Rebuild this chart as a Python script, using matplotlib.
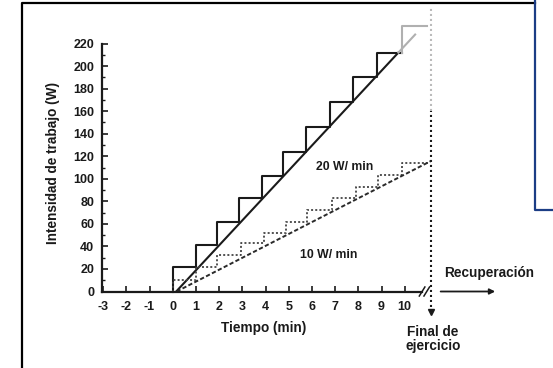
import numpy as np
import matplotlib.pyplot as plt
from matplotlib.lines import Line2D

plt.rcParams['font.family'] = ['Liberation Sans', 'DejaVu Sans']
plt.rcParams['font.weight'] = 'bold'

# axis ticks
x_ticks = list(range(-3, 11))
x_labels = ['-3', '-2', '-1', '0', '1', '2', '3', '4', '5', '6', '7', '8', '9', '10']
y_ticks = list(range(0, 221, 20))
y_minor = list(range(10, 220, 20))

# 20 W/min staircase (start of each step, level of the step)
risers_20 = [0, 1, 1.9, 2.87, 3.83, 4.77, 5.73, 6.78, 7.78, 8.8, 9.9]
levels_20 = [21.5, 41.3, 62, 82.7, 102.5, 124, 146, 168.4, 190, 212, 236]
end_20 = 10.95
ramp20_x = [0.15, 10.45]
ramp20_w = [0, 228]

# 10 W/min staircase (dotted) and ramp (dashed)
risers_10 = [0, 1, 1.9, 2.95, 3.95, 4.9, 5.8, 6.85, 7.9, 8.85, 9.87]
levels_10 = [10.5, 22, 32, 42.7, 51.6, 62, 72.3, 82.7, 93, 103.4, 113.8]
end_10 = 11.1
ramp10_x = [0.17, 11.13]
ramp10_w = [0, 115.8]

final_x = 11.13   # end of exercise
break_x = 10.85

W, H = 553, 368
x0px, xs = 172.7, 23.2     # pixel of minute 0, pixels per minute
y0px, ys = 291.5, 1.127    # pixel of 0 W, pixels per watt

fig = plt.figure(figsize=(W / 100, H / 100), dpi=100)
ax = fig.add_axes([0, 0, 1, 1])
ax.set_xlim(-x0px / xs, (W - x0px) / xs)
ax.set_ylim((y0px - H) / ys, y0px / ys)

ink = '#1a1a1a'

# solid staircase, last step faded in the scan
sx = [risers_20[0]] + risers_20[:10] + [risers_20[10]]
sy = [0] + levels_20[:10] + [levels_20[9]]
ax.step(sx, sy, where='post', color=ink, lw=1.5)
ax.plot([risers_20[10], risers_20[10], end_20],
        [levels_20[9], levels_20[10], levels_20[10]], color='#b0b0b0', lw=1.5)

# solid ramp
x_split = np.interp(levels_20[9], ramp20_w, ramp20_x)
ax.plot([ramp20_x[0], x_split], [ramp20_w[0], levels_20[9]], color=ink, lw=1.5)
ax.plot([x_split, ramp20_x[1]], [levels_20[9], ramp20_w[1]], color='#b0b0b0', lw=1.5)

# dotted staircase and dashed ramp
dx = [risers_10[0]] + risers_10 + [end_10]
dy = [0] + levels_10 + [levels_10[-1]]
ax.step(dx, dy, where='post', color='#444444', lw=1.3, linestyle=(0, (1.1, 1.2)))
ax.plot(ramp10_x, ramp10_w, color='#2a2a2a', lw=1.4, linestyle=(0, (2.2, 1.2)))

# end of exercise line
ax.plot([final_x, final_x], [-18, 160], color=ink, lw=1.5, linestyle=(0, (1, 1.4)))
ax.plot([final_x, final_x], [160, 252], color='#bbbbbb', lw=1.5, linestyle=(0, (1, 1.4)))
ax.plot([final_x], [-18], marker='v', color=ink, markersize=4)

# axes
for s in ['top', 'right']:
    ax.spines[s].set_visible(False)
ax.spines['left'].set_position(('data', -3.05))
ax.spines['left'].set_bounds(0, 220)
ax.spines['bottom'].set_position(('data', 0))
ax.spines['bottom'].set_bounds(-3.05, break_x - 0.1)
for s in ['left', 'bottom']:
    ax.spines[s].set_linewidth(1.6)
    ax.spines[s].set_color(ink)

ax.set_xticks(x_ticks)
ax.set_xticklabels(x_labels)
ax.set_yticks(y_ticks)
ax.set_yticks(y_minor, minor=True)
ax.tick_params(axis='x', direction='in', length=4.5, width=1.2, pad=6.5,
               labelsize=9, colors=ink)
ax.tick_params(axis='y', which='major', direction='in', length=4.5, width=1.2,
               pad=5.5, labelsize=9, colors=ink)
ax.tick_params(axis='y', which='minor', direction='in', length=2.5, width=1.0,
               colors=ink)

# axis break
for off in [-0.1, 0.1]:
    ax.plot([break_x + off - 0.12, break_x + off + 0.12], [-4, 4], color=ink, lw=1.1)

# recovery arrow
ax.annotate('', xy=(14.02, 0), xytext=(11.43, 0),
            arrowprops=dict(arrowstyle='-|>', lw=1.3, color=ink, mutation_scale=8))

ax.text(7.4, 110.7, '20 W/ min', fontsize=8.8, ha='center', va='center', color=ink)
ax.text(6.73, 32.4, '10 W/ min', fontsize=8.8, ha='center', va='center', color=ink)
ax.text(3.92, -32.7, 'Tiempo (min)', fontsize=9.8, ha='center', va='center', color=ink)
ax.text(-5.16, 113.8, 'Intensidad de trabajo (W)', fontsize=9.8, rotation=90,
        ha='center', va='center', color=ink)
ax.text(11.68, 16.4, 'Recuperación', fontsize=9.8, ha='left', va='center', color=ink)
ax.text(11.22, -42, 'Final de\nejercicio', fontsize=9.8, ha='center', va='center',
        linespacing=1.05, color=ink)

# page frame
fig.add_artist(Line2D([21.9 / W, 21.9 / W, 535 / W], [0, 1 - 2.7 / H, 1 - 2.7 / H],
                      transform=fig.transFigure, color='black', lw=1.6))
fig.add_artist(Line2D([535 / W, 535 / W, 1], [1, 1 - 210 / H, 1 - 210 / H],
                      transform=fig.transFigure, color='#1c3d85', lw=1.6))

fig.savefig('out.png', dpi=100)
